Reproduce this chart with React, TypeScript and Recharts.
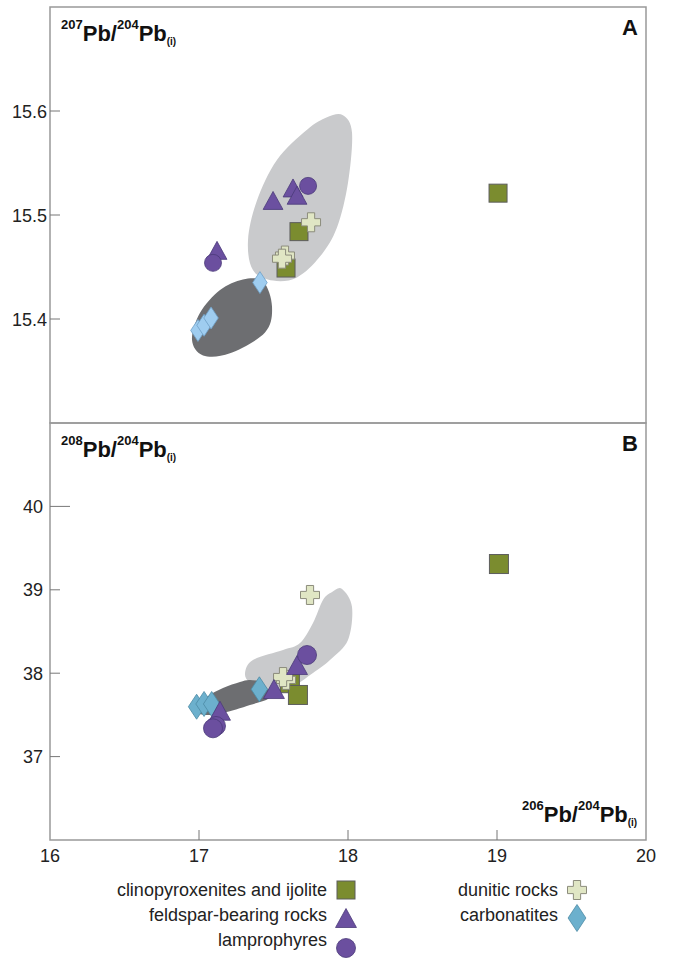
import React from 'react';
import { ScatterChart, Scatter, XAxis, YAxis, ReferenceArea, Legend, Customized } from 'recharts';

const FONT = 'Liberation Sans, Arial, Helvetica, sans-serif';

// ---- axis ticks ----
const xTicks = [16, 17, 18, 19, 20];
const xDomain = [16, 20];
const yTicksA = [15.4, 15.5, 15.6];
const yDomainA = [15.3, 15.7];
const yTicksB = [37, 38, 39, 40];
const yDomainB = [36, 41];

// ---- Panel A: 207Pb/204Pb vs 206Pb/204Pb ----
const clinoA = [
  { x: 19.007, y: 15.521 },
  { x: 17.671, y: 15.484 },
  { x: 17.584, y: 15.449 },
];
const feldsparA = [
  { x: 17.497, y: 15.514 },
  { x: 17.631, y: 15.526 },
  { x: 17.658, y: 15.519 },
  { x: 17.121, y: 15.466 },
];
const lamproA = [
  { x: 17.732, y: 15.528 },
  { x: 17.094, y: 15.454 },
];
const duniticA = [
  { x: 17.752, y: 15.493 },
  { x: 17.577, y: 15.461 },
  { x: 17.557, y: 15.458 },
];
const carbonA = [
  { x: 17.409, y: 15.435 },
  { x: 16.993, y: 15.389 },
  { x: 17.034, y: 15.394 },
  { x: 17.081, y: 15.401 },
];
const lightFieldA = [
  { x: 17.966, y: 15.596 }, { x: 18.027, y: 15.579 }, { x: 18.0, y: 15.531 },
  { x: 17.926, y: 15.488 }, { x: 17.812, y: 15.46 }, { x: 17.658, y: 15.44 },
  { x: 17.497, y: 15.437 }, { x: 17.362, y: 15.447 }, { x: 17.329, y: 15.476 },
  { x: 17.389, y: 15.514 }, { x: 17.523, y: 15.553 }, { x: 17.725, y: 15.582 },
  { x: 17.859, y: 15.594 },
];
const darkFieldA = [
  { x: 17.43, y: 15.436 }, { x: 17.49, y: 15.412 }, { x: 17.443, y: 15.387 },
  { x: 17.208, y: 15.367 }, { x: 17.027, y: 15.365 }, { x: 16.953, y: 15.38 },
  { x: 17.007, y: 15.406 }, { x: 17.141, y: 15.428 }, { x: 17.295, y: 15.438 },
];

// ---- Panel B: 208Pb/204Pb vs 206Pb/204Pb ----
const clinoB = [
  { x: 19.013, y: 39.309 },
  { x: 17.61, y: 37.88 },
  { x: 17.664, y: 37.739 },
];
const feldsparB = [
  { x: 17.658, y: 38.098 },
  { x: 17.503, y: 37.81 },
  { x: 17.141, y: 37.55 },
];
const lamproB = [
  { x: 17.725, y: 38.218 },
  { x: 17.114, y: 37.367 },
  { x: 17.094, y: 37.339 },
];
const duniticB = [
  { x: 17.745, y: 38.938 },
  { x: 17.584, y: 37.92 },
  { x: 17.564, y: 37.954 },
];
const carbonB = [
  { x: 17.405, y: 37.807 },
  { x: 16.984, y: 37.598 },
  { x: 17.034, y: 37.631 },
  { x: 17.085, y: 37.631 },
];
const lightFieldB = [
  { x: 17.96, y: 39.01 }, { x: 18.027, y: 38.794 }, { x: 18.0, y: 38.398 },
  { x: 17.879, y: 38.158 }, { x: 17.765, y: 38.002 }, { x: 17.611, y: 37.822 },
  { x: 17.456, y: 37.763 }, { x: 17.342, y: 37.882 }, { x: 17.309, y: 38.002 },
  { x: 17.362, y: 38.158 }, { x: 17.564, y: 38.278 }, { x: 17.678, y: 38.362 },
  { x: 17.765, y: 38.602 }, { x: 17.832, y: 38.878 }, { x: 17.893, y: 38.974 },
];
const darkFieldB = [
  { x: 17.342, y: 37.918 }, { x: 17.423, y: 37.882 }, { x: 17.477, y: 37.715 },
  { x: 17.342, y: 37.619 }, { x: 17.161, y: 37.523 }, { x: 17.074, y: 37.499 },
  { x: 16.987, y: 37.535 }, { x: 17.054, y: 37.715 }, { x: 17.161, y: 37.823 },
  { x: 17.275, y: 37.894 },
];

// ---- legend ----
const legendLeft = [
  { name: 'clinopyroxenites and ijolite', kind: 'square' },
  { name: 'feldspar-bearing rocks', kind: 'triangle' },
  { name: 'lamprophyres', kind: 'circle' },
];
const legendRight = [
  { name: 'dunitic rocks', kind: 'cross' },
  { name: 'carbonatites', kind: 'diamond' },
];

const COLORS = {
  square: { fill: '#7b8c2f', stroke: '#5d5d5d' },
  triangle: { fill: '#6b50a0', stroke: '#4a3a78' },
  circle: { fill: '#6b4f9f', stroke: '#4a3a78' },
  cross: { fill: '#e0e6c4', stroke: '#8c8c7c' },
  diamondA: { fill: '#9fcdf0', stroke: '#6f9fc6' },
  diamondB: { fill: '#6cb0cd', stroke: '#4d8aa5' },
};

function marker(kind: string, cx: number, cy: number, s: number, variant = 'B') {
  if (kind === 'square') {
    return <rect x={cx - s / 2} y={cy - s / 2} width={s} height={s} fill={COLORS.square.fill} stroke={COLORS.square.stroke} strokeWidth={1} />;
  }
  if (kind === 'triangle') {
    const w = s * 1.1, h = s;
    return <polygon points={`${cx},${cy - h / 2} ${cx - w / 2},${cy + h / 2} ${cx + w / 2},${cy + h / 2}`} fill={COLORS.triangle.fill} stroke={COLORS.triangle.stroke} strokeWidth={0.8} />;
  }
  if (kind === 'circle') {
    return <circle cx={cx} cy={cy} r={s / 2} fill={COLORS.circle.fill} stroke={COLORS.circle.stroke} strokeWidth={0.8} />;
  }
  if (kind === 'cross') {
    const a = s / 2, b = s * 0.19;
    const d = `M${cx - b},${cy - a} H${cx + b} V${cy - b} H${cx + a} V${cy + b} H${cx + b} V${cy + a} H${cx - b} V${cy + b} H${cx - a} V${cy - b} H${cx - b} Z`;
    return <path d={d} fill={COLORS.cross.fill} stroke={COLORS.cross.stroke} strokeWidth={1} />;
  }
  const c = variant === 'A' ? COLORS.diamondA : COLORS.diamondB;
  const w = s * 0.66, h = s;
  return <polygon points={`${cx},${cy - h / 2} ${cx + w / 2},${cy} ${cx},${cy + h / 2} ${cx - w / 2},${cy}`} fill={c.fill} stroke={c.stroke} strokeWidth={0.8} />;
}

const shapeOf = (kind: string, s: number, variant = 'B') => (p: any) => (
  <g>{marker(kind, p.cx, p.cy, s, variant)}</g>
);

function closedPath(pts: { x: number; y: number }[]) {
  const n = pts.length;
  if (!n) return '';
  let d = `M${pts[0].x},${pts[0].y}`;
  for (let i = 0; i < n; i++) {
    const p0 = pts[(i - 1 + n) % n], p1 = pts[i], p2 = pts[(i + 1) % n], p3 = pts[(i + 2) % n];
    const c1x = p1.x + (p2.x - p0.x) / 6, c1y = p1.y + (p2.y - p0.y) / 6;
    const c2x = p2.x - (p3.x - p1.x) / 6, c2y = p2.y - (p3.y - p1.y) / 6;
    d += ` C${c1x},${c1y} ${c2x},${c2y} ${p2.x},${p2.y}`;
  }
  return d + ' Z';
}

const fieldLine = (fill: string) => (p: any) => <path d={closedPath(p.points || [])} fill={fill} stroke="none" />;
const noShape = () => <g />;

const YTick = (props: any) => {
  const { x, y, payload, gap, longValue } = props;
  const len = payload.value === longValue ? 20 : 10;
  return (
    <g>
      <line x1={x} x2={x + len} y1={y} y2={y} stroke="#777" strokeWidth={1} />
      <text x={x - gap} y={y + 6.5} textAnchor="end" fontSize={18} fill="#222" fontFamily={FONT}>
        {payload.value}
      </text>
    </g>
  );
};

const XTick = (props: any) => {
  const { x, y, payload, showLabel } = props;
  const v = payload.value;
  const inner = v > 16 && v < 20;
  return (
    <g>
      {inner && <line x1={x} x2={x} y1={y} y2={y - 10} stroke="#777" strokeWidth={1} />}
      {showLabel && (
        <text x={x} y={y + 22} textAnchor="middle" fontSize={18} fill="#222" fontFamily={FONT}>
          {v}
        </text>
      )}
    </g>
  );
};

const Title = ({ x, y, sup1, sup2 }: any) => (
  <text x={x} y={y} fontFamily={FONT} fontWeight="bold" fill="#111">
    <tspan fontSize={13} dy={-12.5}>{sup1}</tspan>
    <tspan fontSize={22} dy={12.5}>Pb/</tspan>
    <tspan fontSize={13} dy={-12.5}>{sup2}</tspan>
    <tspan fontSize={22} dy={12.5}>Pb</tspan>
    <tspan fontSize={10} dy={4}>(i)</tspan>
  </text>
);

const LegendBox = () => {
  const rowsL = [20, 45, 70];
  const mkL = [20, 48, 78];
  const rowsR = [20, 45];
  const mkR = [20, 48];
  return (
    <svg width={676} height={88} style={{ display: 'block' }}>
      {legendLeft.map((it, i) => (
        <g key={it.name}>
          <text x={327} y={rowsL[i] + 6} textAnchor="end" fontSize={18} fill="#222" fontFamily={FONT}>{it.name}</text>
          {marker(it.kind, 346, mkL[i], it.kind === 'triangle' ? 19 : it.kind === 'circle' ? 19 : 18)}
        </g>
      ))}
      {legendRight.map((it, i) => (
        <g key={it.name}>
          <text x={558} y={rowsR[i] + 6} textAnchor="end" fontSize={18} fill="#222" fontFamily={FONT}>{it.name}</text>
          {marker(it.kind, 577, mkR[i], it.kind === 'diamond' ? 27 : 19)}
        </g>
      ))}
    </svg>
  );
};

export default function App() {
  return (
    <div style={{ position: 'absolute', left: 0, top: 0, width: 676, height: 958, background: '#fff', fontFamily: FONT }}>
      <div style={{ position: 'absolute', left: 0, top: 0 }}>
        <ScatterChart width={676} height={430} margin={{ top: 7, right: 30, bottom: 7, left: 0 }}>
          <XAxis type="number" dataKey="x" domain={xDomain} ticks={xTicks} interval={0} height={0}
            tickSize={0} tickMargin={0} axisLine={false} tickLine={false} allowDataOverflow
            tick={(p: any) => <XTick {...p} showLabel={false} />} />
          <YAxis type="number" dataKey="y" domain={yDomainA} ticks={yTicksA} interval={0} width={50}
            tickSize={0} tickMargin={0} axisLine={false} tickLine={false} allowDataOverflow
            tick={(p: any) => <YTick {...p} gap={3} longValue={null} />} />
          <Scatter data={lightFieldA} isAnimationActive={false} shape={noShape} line={fieldLine('#c9cacc')} legendType="none" />
          <Scatter data={darkFieldA} isAnimationActive={false} shape={noShape} line={fieldLine('#6d6e71')} legendType="none" />
          <ReferenceArea x1={16} x2={20} y1={15.3} y2={15.7} fill="none" stroke="#999" strokeWidth={1.5} ifOverflow="visible" />
          <Scatter name="carbonatites" data={carbonA} isAnimationActive={false} shape={shapeOf('diamond', 22, 'A')} />
          <Scatter name="feldspar-bearing rocks" data={feldsparA} isAnimationActive={false} shape={shapeOf('triangle', 18)} />
          <Scatter name="lamprophyres" data={lamproA} isAnimationActive={false} shape={shapeOf('circle', 17)} />
          <Scatter name="clinopyroxenites and ijolite" data={clinoA} isAnimationActive={false} shape={shapeOf('square', 18)} />
          <Scatter name="dunitic rocks" data={duniticA} isAnimationActive={false} shape={shapeOf('cross', 19)} />
          <Customized component={() => (
            <g>
              <Title x={61} y={41} sup1="207" sup2="204" />
              <text x={638} y={35} textAnchor="end" fontSize={22} fontWeight="bold" fill="#111" fontFamily={FONT}>A</text>
            </g>
          )} />
        </ScatterChart>
      </div>
      <div style={{ position: 'absolute', left: 0, top: 416 }}>
        <ScatterChart width={676} height={542} margin={{ top: 7, right: 30, bottom: 88, left: 0 }}>
          <XAxis type="number" dataKey="x" domain={xDomain} ticks={xTicks} interval={0} height={30}
            tickSize={0} tickMargin={0} axisLine={false} tickLine={false} allowDataOverflow
            tick={(p: any) => <XTick {...p} showLabel={true} />} />
          <YAxis type="number" dataKey="y" domain={yDomainB} ticks={yTicksB} interval={0} width={50}
            tickSize={0} tickMargin={0} axisLine={false} tickLine={false} allowDataOverflow
            tick={(p: any) => <YTick {...p} gap={7} longValue={40} />} />
          <Scatter data={lightFieldB} isAnimationActive={false} shape={noShape} line={fieldLine('#c9cacc')} legendType="none" />
          <Scatter data={darkFieldB} isAnimationActive={false} shape={noShape} line={fieldLine('#6d6e71')} legendType="none" />
          <ReferenceArea x1={16} x2={20} y1={36} y2={41} fill="none" stroke="#999" strokeWidth={1.5} ifOverflow="visible" />
          <Scatter name="carbonatites" data={carbonB} isAnimationActive={false} shape={shapeOf('diamond', 25, 'B')} />
          <Scatter name="clinopyroxenites and ijolite" data={clinoB} isAnimationActive={false} shape={shapeOf('square', 19)} />
          <Scatter name="dunitic rocks" data={duniticB} isAnimationActive={false} shape={shapeOf('cross', 19)} />
          <Scatter name="feldspar-bearing rocks" data={feldsparB} isAnimationActive={false} shape={shapeOf('triangle', 19)} />
          <Scatter name="lamprophyres" data={lamproB} isAnimationActive={false} shape={shapeOf('circle', 19)} />
          <Customized component={() => (
            <g>
              <Title x={61} y={41} sup1="208" sup2="204" />
              <text x={638} y={35} textAnchor="end" fontSize={22} fontWeight="bold" fill="#111" fontFamily={FONT}>B</text>
              <Title x={522} y={406} sup1="206" sup2="204" />
            </g>
          )} />
          <Legend layout="horizontal" verticalAlign="middle" align="center"
            wrapperStyle={{ top: 454, left: 0, width: 676, height: 88 }}
            content={() => <LegendBox />} />
        </ScatterChart>
      </div>
    </div>
  );
}
